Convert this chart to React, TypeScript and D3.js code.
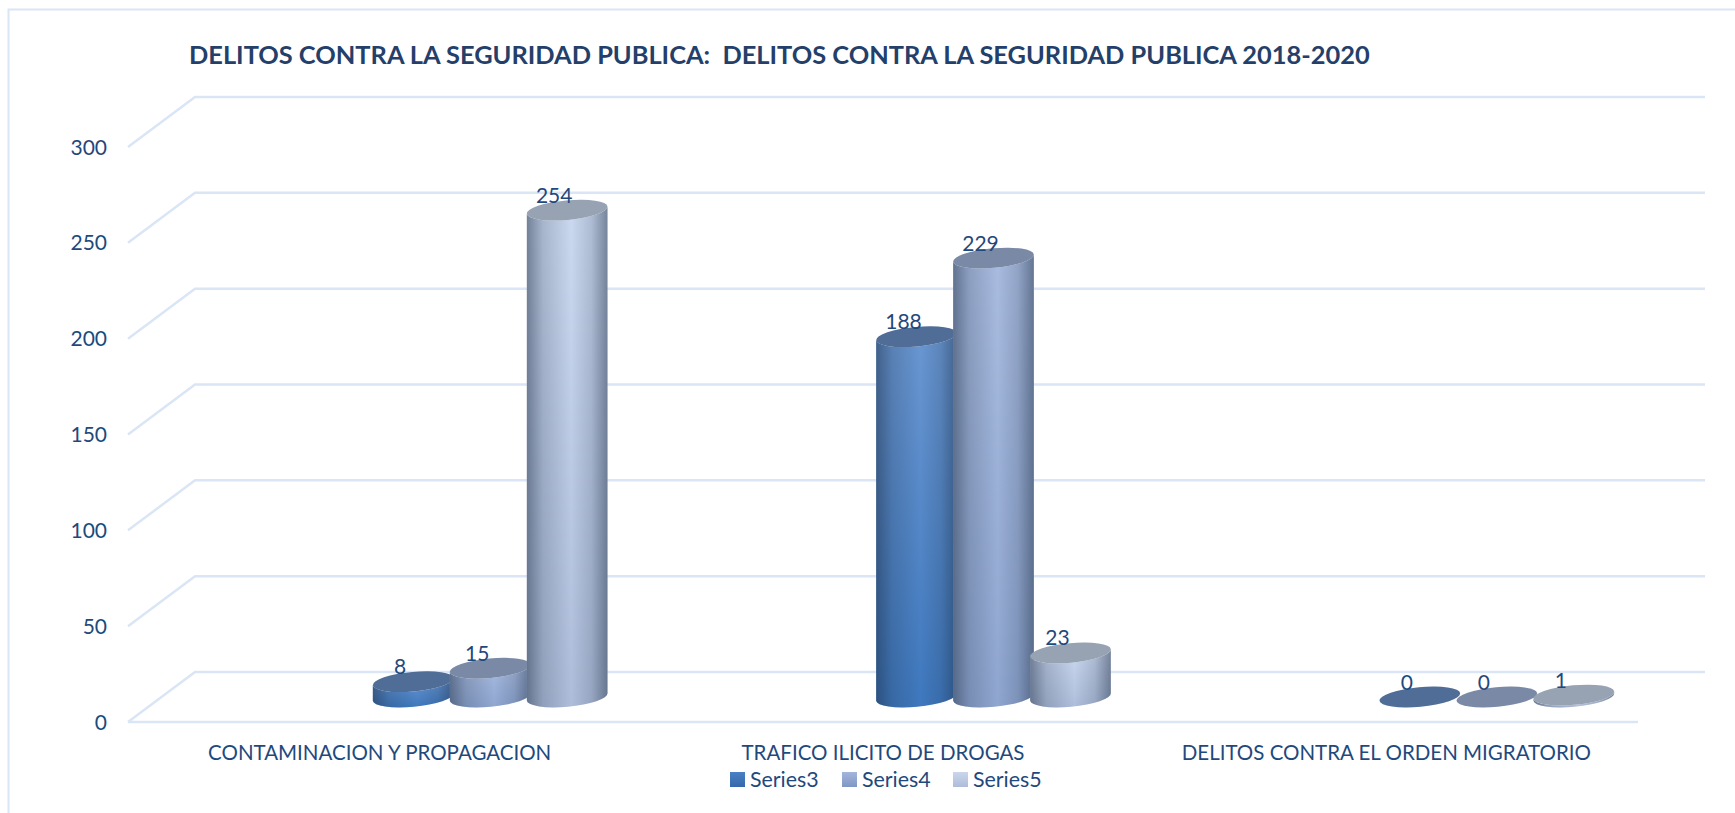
import React from "react";
import * as d3 from "d3";

const categories = ["CONTAMINACION Y PROPAGACION", "TRAFICO ILICITO DE DROGAS", "DELITOS CONTRA EL ORDEN MIGRATORIO"];
const seriesSlots = ["Series1", "Series2", "Series3", "Series4", "Series5"];
const series3 = [8, 188, 0];
const series4 = [15, 229, 0];
const series5 = [254, 23, 1];
const yTicks = [0, 50, 100, 150, 200, 250, 300];
const titleText = "DELITOS CONTRA LA SEGURIDAD PUBLICA:  DELITOS CONTRA LA SEGURIDAD PUBLICA 2018-2020";

const W = 1735, H = 813;
const INK = "#1F497D", GRID = "#DAE5F6", FONT = "Lato, Carlito, Calibri, sans-serif";
const DX = 67, DY = 50;
const x0 = d3.scaleBand<string>().domain(categories).range([128, 1638]);
const y = d3.scaleLinear().domain([0, 300]).range([722, 147]);
const slot = d3.scaleBand<string>().domain(seriesSlots).range([-192.5, 192.5]);
const RX = 40.5, RY = 9.8, ROT = -5.2;
const TX = RX * Math.cos((ROT * Math.PI) / 180), TY = RX * Math.sin((ROT * Math.PI) / 180);

const shown = [
  { key: "Series3", values: series3, top: "#4F6D96", light: "#6A97D2", dark: "#3E78BE", swatch: ["#4A80C4", "#3569AC"] },
  { key: "Series4", values: series4, top: "#7A8AA6", light: "#A9BCE0", dark: "#8FA6D0", swatch: ["#A3B6DC", "#7F97C4"] },
  { key: "Series5", values: series5, top: "#97A2B2", light: "#CBD9F0", dark: "#AEBDDA", swatch: ["#CAD6EC", "#AEBCD8"] },
];

function Cylinder({ cx, base, top, s }: { cx: number; base: number; top: number; s: (typeof shown)[number] }) {
  const body = `M${cx - TX},${top - TY} L${cx - TX},${base - TY} A${RX},${RY} ${ROT} 0 0 ${cx + TX},${base + TY} L${cx + TX},${top + TY} A${RX},${RY} ${ROT} 0 1 ${cx - TX},${top - TY} Z`;
  return (
    <g>
      {base - top > 0.01 && <path d={body} fill={`url(#v-${s.key})`} />}
      {base - top > 0.01 && <path d={body} fill="url(#shade)" />}
      <ellipse cx={cx} cy={top} rx={RX} ry={RY} transform={`rotate(${ROT} ${cx} ${top})`} fill={s.top} />
    </g>
  );
}

export default function App() {
  const base = y(0) - DY / 2;
  const rows = categories.flatMap((c, i) =>
    shown.map((s) => {
      const cx = x0(c)! + x0.bandwidth() / 2 + DX / 2 + slot(s.key)! + slot.bandwidth() / 2;
      return { id: c + s.key, s, v: s.values[i], cx, top: base - (y(0) - y(s.values[i])) };
    })
  );
  const legendX = [730, 842, 953];
  return (
    <svg width={W} height={H} style={{ position: "absolute", left: 0, top: 0 }} fontFamily={FONT}>
      <defs>
        {shown.map((s) => (
          <React.Fragment key={s.key}>
            <linearGradient id={`v-${s.key}`} x1="0" y1="0" x2="0" y2="1">
              <stop offset="0" stopColor={s.light} />
              <stop offset="1" stopColor={s.dark} />
            </linearGradient>
            <linearGradient id={`sw-${s.key}`} x1="0" y1="0" x2="0" y2="1">
              <stop offset="0" stopColor={s.swatch[0]} />
              <stop offset="1" stopColor={s.swatch[1]} />
            </linearGradient>
          </React.Fragment>
        ))}
        <linearGradient id="shade" x1="0" y1="0" x2="1" y2="0">
          <stop offset="0" stopColor="#1a2a40" stopOpacity="0.5" />
          <stop offset="0.2" stopColor="#1a2a40" stopOpacity="0.2" />
          <stop offset="0.55" stopColor="#1a2a40" stopOpacity="0" />
          <stop offset="0.8" stopColor="#1a2a40" stopOpacity="0.16" />
          <stop offset="1" stopColor="#1a2a40" stopOpacity="0.48" />
        </linearGradient>
      </defs>
      <rect width={W} height={H} fill="#fff" />
      <path d={`M8.5,${H} V9.5 H${W}`} fill="none" stroke={GRID} strokeWidth={2} />
      <text x={189} y={54} dominantBaseline="central" fontSize={25.4} fontWeight={700} fill="#24406A" style={{ whiteSpace: "pre" }}>
        {titleText}
      </text>
      {yTicks.map((t) => (
        <g key={t}>
          <path
            d={`M128,${y(t)} L${128 + DX},${y(t) - DY} H${x0.range()[1] + DX}`}
            fill="none"
            stroke={GRID}
            strokeWidth={2.5}
          />
          <text x={107} y={y(t) - 1} textAnchor="end" dominantBaseline="central" fontSize={21} fill={INK}>
            {t}
          </text>
        </g>
      ))}
      <line x1={128} x2={x0.range()[1]} y1={y(0)} y2={y(0)} stroke={GRID} strokeWidth={2.5} />
      {rows.map((r) => (
        <Cylinder key={r.id} cx={r.cx} base={base} top={r.top} s={r.s} />
      ))}
      {rows.map((r) => (
        <text key={r.id} x={r.cx - 13} y={r.top - 16} textAnchor="middle" dominantBaseline="central" fontSize={21} fill={INK}>
          {r.v}
        </text>
      ))}
      {categories.map((c) => (
        <text key={c} x={x0(c)! + x0.bandwidth() / 2} y={752} textAnchor="middle" dominantBaseline="central" fontSize={20.5} fill={INK}>
          {c}
        </text>
      ))}
      {shown.map((s, i) => (
        <g key={s.key}>
          <rect x={legendX[i]} y={772} width={15} height={15} fill={`url(#sw-${s.key})`} />
          <text x={legendX[i] + 20} y={779} dominantBaseline="central" fontSize={21.4} fill={INK}>
            {s.key}
          </text>
        </g>
      ))}
    </svg>
  );
}
